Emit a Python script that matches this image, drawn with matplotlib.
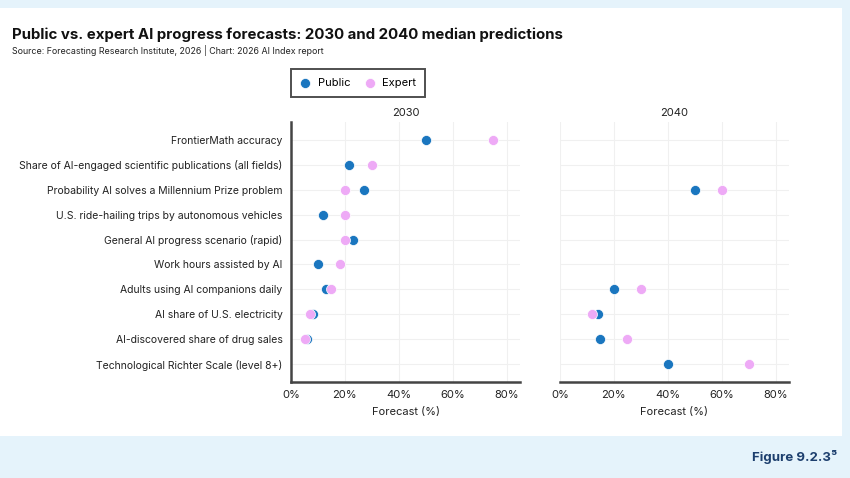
import matplotlib.pyplot as plt
from matplotlib.patches import Rectangle

plt.rcParams["font.family"] = ["Inter", "DejaVu Sans"]

categories = [
    "FrontierMath accuracy",
    "Share of AI-engaged scientific publications (all fields)",
    "Probability AI solves a Millennium Prize problem",
    "U.S. ride-hailing trips by autonomous vehicles",
    "General AI progress scenario (rapid)",
    "Work hours assisted by AI",
    "Adults using AI companions daily",
    "AI share of U.S. electricity",
    "AI-discovered share of drug sales",
    "Technological Richter Scale (level 8+)",
]

# None = no forecast for that year
public_2030 = [50, 21.5, 27, 12, 23, 10, 13, 8, 6, None]
expert_2030 = [75, 30, 20, 20, 20, 18, 15, 7, 5, None]
public_2040 = [None, None, 50, None, None, None, 20, 14, 15, 40]
expert_2040 = [None, None, 60, None, None, None, 30, 12, 25, 70]

xticks = [0, 20, 40, 60, 80]
xtick_labels = ["0%", "20%", "40%", "60%", "80%"]

PUBLIC_COLOR = "#1a76bf"
EXPERT_COLOR = "#eeaaf6"
BG = "#e5f3fb"
SPINE = "#444444"


def points(values):
    ys = [i for i, v in enumerate(values) if v is not None]
    xs = [v for v in values if v is not None]
    return xs, ys


def draw_panel(ax, public, expert, year, show_labels):
    xs, ys = points(public)
    ax.scatter(xs, ys, s=52, color=PUBLIC_COLOR, edgecolor="white",
               linewidth=0.5, zorder=3, label="Public")
    xs, ys = points(expert)
    ax.scatter(xs, ys, s=52, color=EXPERT_COLOR, edgecolor="white",
               linewidth=0.5, zorder=4, label="Expert")

    ax.set_xlim(0, 85)
    ax.set_ylim(len(categories) - 1 + 0.72, -0.72)
    ax.set_xticks(xticks)
    ax.set_xticklabels(xtick_labels, fontsize=8, color="#222222")
    ax.set_yticks(range(len(categories)))
    if show_labels:
        ax.set_yticklabels(categories, fontsize=7.5, color="#222222")
    else:
        ax.set_yticklabels([])
    ax.tick_params(length=0, pad=6)
    ax.grid(True, color="#f0f0f0", linewidth=0.8)
    ax.set_axisbelow(True)
    for side in ["top", "right"]:
        ax.spines[side].set_visible(False)
    ax.spines["left"].set_visible(show_labels)
    ax.spines["left"].set_color(SPINE)
    ax.spines["left"].set_linewidth(1.8)
    ax.spines["bottom"].set_color(SPINE)
    ax.spines["bottom"].set_linewidth(1.8)
    ax.set_title(year, fontsize=8, color="#222222", pad=4)
    ax.set_xlabel("Forecast (%)", fontsize=8, color="#222222", labelpad=5)


fig = plt.figure(figsize=(8.5, 4.78), dpi=100)
fig.patch.set_facecolor(BG)
fig.patches.append(Rectangle((0, 1 - 436 / 478), 842 / 850, (436 - 8) / 478,
                             transform=fig.transFigure, facecolor="white",
                             edgecolor="none", zorder=-1))

ax1 = fig.add_axes([0.3424, 0.2008, 0.2694, 0.544])
ax2 = fig.add_axes([0.6588, 0.2008, 0.2694, 0.544])
ax1.patch.set_alpha(0)
ax2.patch.set_alpha(0)
draw_panel(ax1, public_2030, expert_2030, "2030", True)
draw_panel(ax2, public_2040, expert_2040, "2040", False)

fig.text(0.014, 1 - 35 / 478, "Public vs. expert AI progress forecasts: 2030 and 2040 median predictions",
         fontsize=10.8, fontweight="bold", color="#111111", va="center")
fig.text(0.014, 1 - 51 / 478, "Source: Forecasting Research Institute, 2026 | Chart: 2026 AI Index report",
         fontsize=6.4, color="#222222", va="center")

leg = ax1.legend(loc="lower left", bbox_to_anchor=(291 / 850, 1 - 97 / 478),
                 bbox_transform=fig.transFigure, ncol=2, fontsize=8,
                 frameon=True, fancybox=False, borderpad=0.8, borderaxespad=0,
                 handletextpad=0.6, columnspacing=1.3, handlelength=1.0)
leg.get_frame().set_edgecolor("#222222")
leg.get_frame().set_linewidth(1.4)

fig.text(0.985, 1 - 457 / 478, "Figure 9.2.3\u2075", fontsize=9.5,
         fontweight="bold", color="#1d3f6e", ha="right", va="center")

fig.savefig("out.png", dpi=100, facecolor=BG)
